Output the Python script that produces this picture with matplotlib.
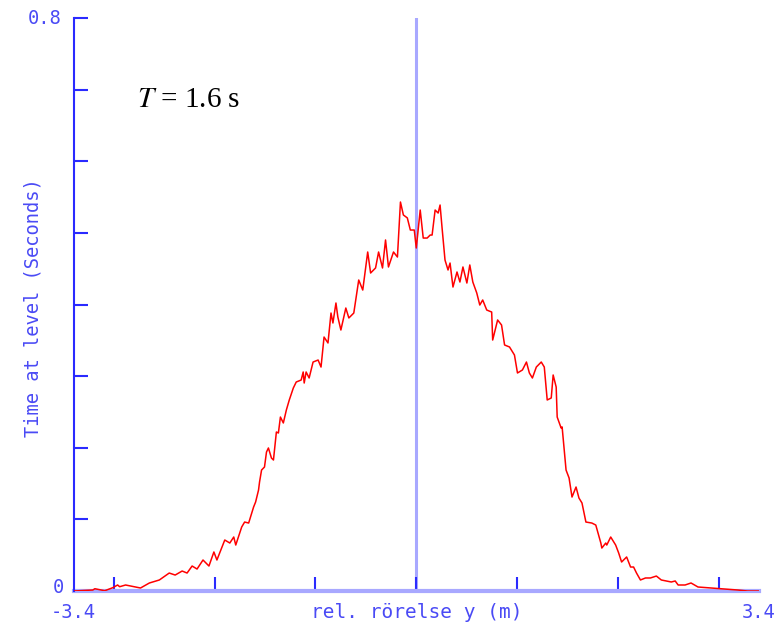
import matplotlib
matplotlib.use("Agg")
import matplotlib.pyplot as plt

# time spent at each level (seconds) against relative motion y (m)
y_pos = [-3.400, -3.209, -3.189, -3.091, -3.012, -2.963, -2.943, -2.884, -2.785, -2.736,
         -2.648, -2.549, -2.451, -2.392, -2.323, -2.274, -2.224, -2.175, -2.116, -2.057,
         -2.008, -1.978, -1.900, -1.850, -1.811, -1.791, -1.732, -1.703, -1.663, -1.614,
         -1.594, -1.565, -1.555, -1.535, -1.506, -1.486, -1.467, -1.437, -1.417, -1.388,
         -1.368, -1.348, -1.319, -1.289, -1.260, -1.220, -1.191, -1.142, -1.122, -1.112,
         -1.093, -1.063, -1.024, -0.974, -0.945, -0.915, -0.876, -0.846, -0.827, -0.797,
         -0.778, -0.748, -0.699, -0.669, -0.620, -0.571, -0.531, -0.482, -0.453, -0.404,
         -0.374, -0.335, -0.305, -0.276, -0.226, -0.187, -0.157, -0.128, -0.089, -0.059,
         -0.020, 0.000, 0.039, 0.069, 0.108, 0.138, 0.157, 0.187, 0.217, 0.236,
         0.256, 0.285, 0.315, 0.335, 0.364, 0.404, 0.433, 0.463, 0.502, 0.531,
         0.561, 0.600, 0.630, 0.659, 0.699, 0.748, 0.758, 0.807, 0.846, 0.876,
         0.925, 0.974, 1.004, 1.053, 1.093, 1.122, 1.152, 1.191, 1.240, 1.270,
         1.299, 1.339, 1.358, 1.388, 1.398, 1.437, 1.447, 1.486, 1.516, 1.545,
         1.585, 1.614, 1.644, 1.683, 1.742, 1.781, 1.831, 1.841, 1.880, 1.890,
         1.929, 1.978, 2.008, 2.037, 2.087, 2.126, 2.156, 2.185, 2.224, 2.274,
         2.323, 2.382, 2.431, 2.480, 2.530, 2.569, 2.598, 2.667, 2.726, 2.795,
         2.923, 3.061, 3.189, 3.287, 3.400]

t_level = [0.0000, 0.0014, 0.0032, 0.0004, 0.0046, 0.0084, 0.0060, 0.0084, 0.0056, 0.0042,
           0.0112, 0.0154, 0.0251, 0.0223, 0.0279, 0.0251, 0.0349, 0.0307, 0.0433, 0.0349,
           0.0545, 0.0433, 0.0712, 0.0670, 0.0754, 0.0642, 0.0894, 0.0963, 0.0949, 0.1173,
           0.1243, 0.1410, 0.1522, 0.1689, 0.1731, 0.1941, 0.1997, 0.1857, 0.1829, 0.2220,
           0.2206, 0.2429, 0.2346, 0.2527, 0.2667, 0.2834, 0.2918, 0.2946, 0.3058, 0.2904,
           0.3058, 0.2974, 0.3197, 0.3225, 0.3127, 0.3546, 0.3463, 0.3881, 0.3742, 0.4021,
           0.3825, 0.3644, 0.3951, 0.3812, 0.3881, 0.4342, 0.4202, 0.4733, 0.4440, 0.4510,
           0.4733, 0.4510, 0.4901, 0.4524, 0.4733, 0.4663, 0.5431, 0.5250, 0.5209, 0.5040,
           0.5040, 0.4789, 0.5319, 0.4928, 0.4928, 0.4970, 0.4970, 0.5319, 0.5277, 0.5389,
           0.5068, 0.4621, 0.4482, 0.4579, 0.4244, 0.4454, 0.4314, 0.4524, 0.4300, 0.4552,
           0.4314, 0.4161, 0.3993, 0.4063, 0.3923, 0.3895, 0.3504, 0.3784, 0.3714, 0.3435,
           0.3407, 0.3295, 0.3044, 0.3086, 0.3197, 0.3044, 0.2974, 0.3127, 0.3197, 0.3127,
           0.2667, 0.2695, 0.3016, 0.2848, 0.2429, 0.2276, 0.2290, 0.1689, 0.1578, 0.1312,
           0.1452, 0.1298, 0.1229, 0.0963, 0.0949, 0.0921, 0.0670, 0.0600, 0.0670, 0.0642,
           0.0754, 0.0642, 0.0531, 0.0405, 0.0475, 0.0335, 0.0335, 0.0251, 0.0154, 0.0182,
           0.0182, 0.0209, 0.0154, 0.0140, 0.0126, 0.0140, 0.0084, 0.0084, 0.0112, 0.0056,
           0.0042, 0.0028, 0.0014, 0.0000, 0.0000]

x_ticks = [-3, -2, -1, 0, 1, 2, 3]
y_ticks = [0.1, 0.2, 0.3, 0.4, 0.5, 0.6, 0.7, 0.8]

blue = "#2a2aff"
light_blue = "#a8a8ff"
label_blue = "#4a4af5"

plt.rcParams["mathtext.fontset"] = "stix"

fig = plt.figure(figsize=(7.77, 6.34), dpi=100)
ax = fig.add_axes([0.0947, 0.0678, 0.8821, 0.9038])

ax.axvline(0, color=light_blue, lw=2.2, zorder=1)
ax.plot(y_pos, t_level, color="red", lw=1.1, zorder=3)

ax.set_xlim(-3.4, 3.4)
ax.set_ylim(0, 0.8)

for side in ["top", "right"]:
    ax.spines[side].set_visible(False)
ax.spines["left"].set_color(blue)
ax.spines["left"].set_linewidth(1.5)
ax.spines["bottom"].set_color(light_blue)
ax.spines["bottom"].set_linewidth(3)
ax.spines["bottom"].set_zorder(2)

ax.set_xticks(x_ticks)
ax.set_yticks(y_ticks)
ax.tick_params(axis="both", direction="in", length=10, width=1.5, color=blue,
               labelbottom=False, labelleft=False)

# end labels only
mono = "DejaVu Sans Mono"
ax.text(-3.4, -0.03, "-3.4", ha="center", va="center", fontsize=13.5,
        family=mono, color=label_blue)
ax.text(3.4, -0.03, "3.4", ha="center", va="center", fontsize=13.5,
        family=mono, color=label_blue)
ax.text(-3.52, 0.8, "0.8", ha="right", va="center", fontsize=13.5,
        family=mono, color=label_blue)
ax.text(-3.5, 0.005, "0", ha="right", va="center", fontsize=13.5,
        family=mono, color=label_blue)

ax.text(0, -0.03, "rel. rörelse y (m)", ha="center", va="center", fontsize=14,
        family=mono, color=label_blue)
fig.text(0.043, 0.515, "Time at level (Seconds)", ha="center", va="center",
         rotation=90, fontsize=13.5, family=mono, color=label_blue)

ax.text(-2.77, 0.685, "$T$ = 1.6 s", fontsize=21, family="Liberation Serif",
        color="black", ha="left", va="center")

fig.savefig("out.png", dpi=100)
